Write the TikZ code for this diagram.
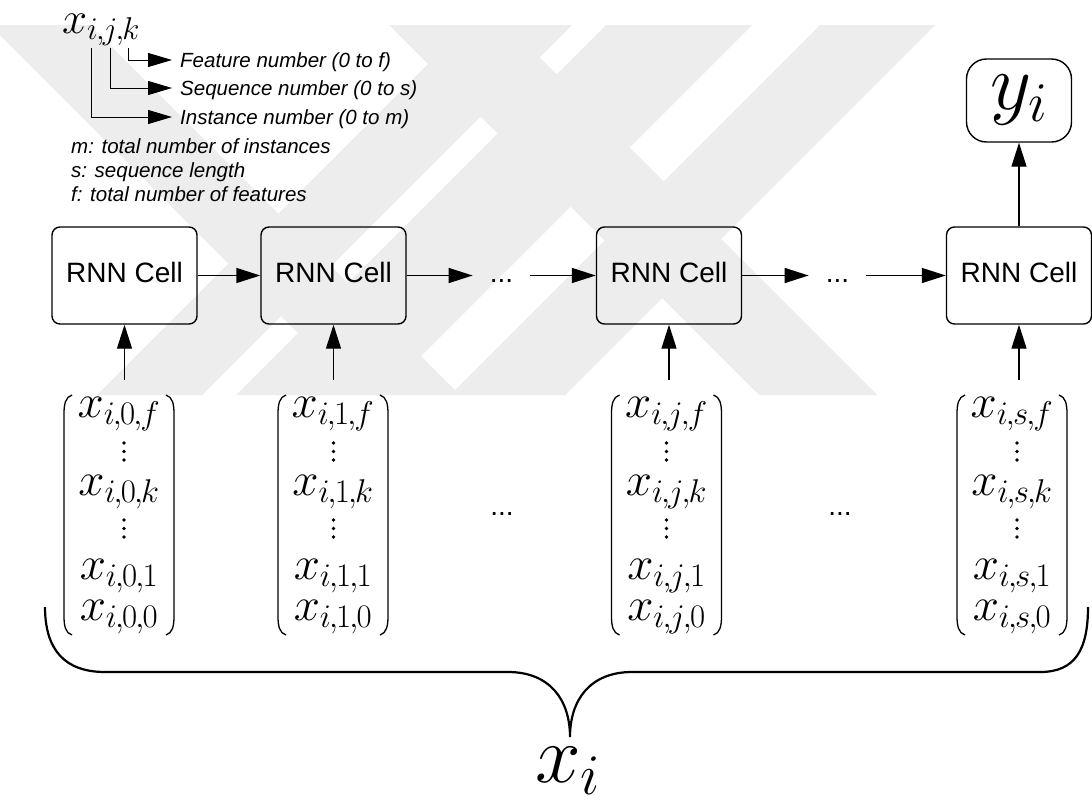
\RequirePackage{fix-cm}
\documentclass[tikz,border=0pt]{standalone}
\usepackage{fontspec}
\newfontfamily\arial{Liberation Sans}
\usetikzlibrary{arrows.meta}
\newcommand\cmm{\mkern-1mu,\mkern-1mu}
\definecolor{wm}{RGB}{237,237,237}
\tikzset{
  cell/.style={draw, line width=1.4pt, rounded corners=8pt, minimum width=145pt,
    minimum height=97pt, inner sep=0pt, text height=20pt, text depth=7pt,
    font=\arial\fontsize{28}{30}\selectfont},
  ybox/.style={draw, line width=1.4pt, rounded corners=20pt, minimum width=105pt,
    minimum height=83pt, inner sep=0pt, font=\fontsize{80}{80}\selectfont},
  arr/.style={line width=1.4pt, -{Triangle[length=24pt,width=15pt]}},
  larr/.style={line width=1pt, -{Triangle[length=24pt,width=14pt]}},
  ent/.style={anchor=base, inner sep=0pt, font=\fontsize{47}{47}\selectfont},
  dotsn/.style={anchor=base, inner xsep=17pt, inner ysep=0pt,
    font=\arial\fontsize{28}{30}\selectfont},
  legend/.style={anchor=base west, inner sep=0pt,
    font=\arial\itshape\fontsize{20.5}{22}\selectfont},
  paren/.style={line width=1.3pt},
  brace/.style={line width=2.2pt},
  bigmath/.style={anchor=base, inner sep=0pt, font=\fontsize{82}{82}\selectfont},
  wmark/.style={fill=wm, draw=none},
}
\begin{document}
\begin{tikzpicture}[x=1pt,y=-1pt]
\useasboundingbox (0,0) rectangle (1092,801);
\fill[white] (0,0) rectangle (1092,801);

% watermark
\begin{scope}
\clip (0,25) rectangle (1092,395);
\fill[wmark] (-10,25) -- (90,25) -- (460,395) -- (360,395) -- cycle;
\fill[wmark] (467,25) -- (572,25) -- (202,395) -- (97,395) -- cycle;
\fill[wmark] (606,25) -- (752,25) -- (382,395) -- (236,395) -- cycle;
\fill[wmark] (820,25) -- (935,25) -- (565,395) -- (450,395) -- cycle;
\fill[wmark] (389,25) -- (507,25) -- (877,395) -- (759,395) -- cycle;
\end{scope}

% legend
\node[ent, anchor=base west, font=\fontsize{45}{45}\selectfont] (xijk) at (62,33) {$x_{i\cmm j\cmm k}$};
\coordinate (ci) at (91,48);
\coordinate (cj) at (110,48);
\coordinate (ck) at (128,48);
\coordinate (aF) at (172,60);
\coordinate (aS) at (172,88);
\coordinate (aI) at (172,117);
\draw[larr] (ck) |- (aF);
\draw[larr] (cj) |- (aS);
\draw[larr] (ci) |- (aI);
\node[legend] (tF) at (180,67) {Feature number (0 to f)};
\node[legend] (tS) at (180,95) {Sequence number (0 to s)};
\node[legend] (tI) at (180,124) {Instance number (0 to m)};
\node[legend] (tm) at (71,153) {m: total number of instances};
\node[legend] (ts) at (71,177) {s: sequence length};
\node[legend] (tf) at (71,201) {f: total number of features};

% cells
\node[cell] (b1) at (124.5,275.5) {RNN Cell};
\node[cell] (b2) at (333.5,275.5) {RNN Cell};
\node[cell] (b3) at (669,275.5) {RNN Cell};
\node[cell] (b4) at (1019,275.5) {RNN Cell};
\node[dotsn] (d1) at (501.5,282) {...};
\node[dotsn] (d2) at (837.5,282) {...};
\draw[arr] (b1) -- (b2);
\draw[arr] (b2.east) -- (b2.east -| d1.west);
\draw[arr] (b3.west -| d1.east) -- (b3.west);
\draw[arr] (b3.east) -- (b3.east -| d2.west);
\draw[arr] (b4.west -| d2.east) -- (b4.west);

% output
\node[ybox] (y) at (1019,100.5) {$y_i$};
\draw[arr] (b4.north) -- (y.south);

% input vectors
\foreach \c/\cx/\s/\dx in {1/119/0/5, 2/333/1/0.5, 3/666.5/j/0, 4/1012/s/5} {
  \node[ent] (e\c f) at (\cx,417) {$x_{i\cmm\s\cmm f}$};
  \node[ent] (e\c k) at (\cx,495) {$x_{i\cmm\s\cmm k}$};
  \node[ent] (e\c o) at (\cx,579) {$x_{i\cmm\s\cmm 1}$};
  \node[ent] (e\c z) at (\cx,620) {$x_{i\cmm\s\cmm 0}$};
  \foreach \yy in {443,451.5,460,520,528.5,537}
    \fill (\cx+\dx,\yy) circle (1.8pt);
  \draw[paren] (\cx-47,395) .. controls (\cx-53.5,397) and (\cx-55,404) .. (\cx-55,414)
     -- (\cx-55,616) .. controls (\cx-55,626) and (\cx-53.5,633) .. (\cx-47,635);
  \draw[paren] (\cx+47,395) .. controls (\cx+53.5,397) and (\cx+55,404) .. (\cx+55,414)
     -- (\cx+55,616) .. controls (\cx+55,626) and (\cx+53.5,633) .. (\cx+47,635);
  \coordinate (v\c) at (b\c.south |- 0,380);
  \draw[arr] (v\c) -- (b\c.south);
}
\node[dotsn] (m1) at (502,515) {...};
\node[dotsn] (m2) at (840,515) {...};

% brace
\draw[brace] (45,607) .. controls (45,650) and (65,672) .. (105,672) -- (508,672)
  .. controls (550,672) and (570,700) .. (570,737)
  .. controls (570,700) and (590,672) .. (632,672) -- (1040,672)
  .. controls (1075,672) and (1088,650) .. (1088,607);
\node[bigmath] (xi) at (568,782) {$x_i$};
\end{tikzpicture}
\end{document}
